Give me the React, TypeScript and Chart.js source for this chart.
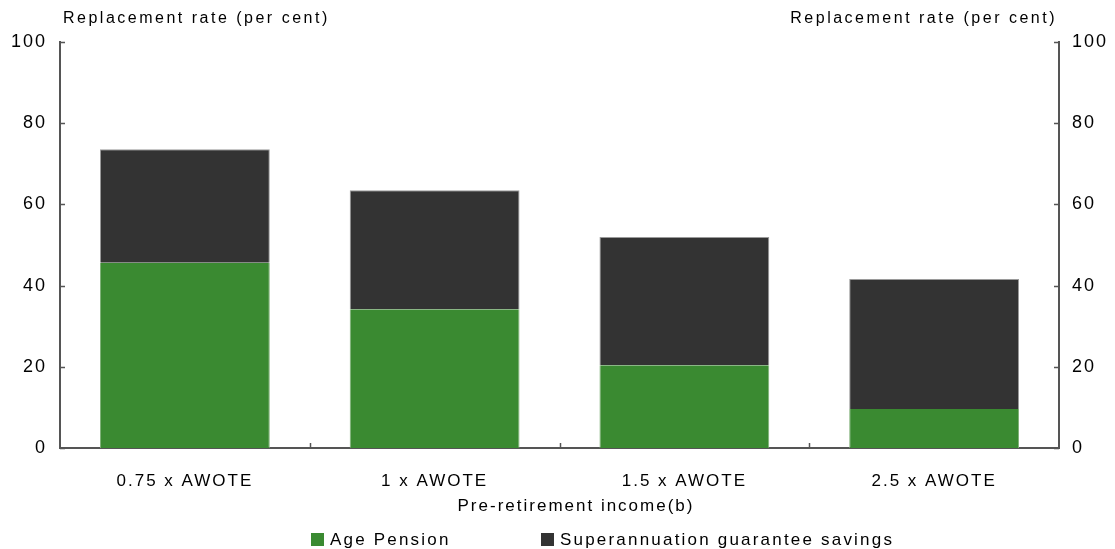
import React, { useEffect, useRef } from "react";
import { Chart, registerables } from "chart.js";

Chart.register(...registerables);

const categories = ["0.75 x AWOTE", "1 x AWOTE", "1.5 x AWOTE", "2.5 x AWOTE"];
const agePension = [45.6, 34.2, 20.4, 9.6];
const superSavings = [28.0, 29.3, 31.6, 32.0];
const yTicks = [0, 20, 40, 60, 80, 100];
const leftTitle = "Replacement rate (per cent)";
const rightTitle = "Replacement rate (per cent)";
const xTitle = "Pre-retirement income(b)";
const seriesNames = ["Age Pension", "Superannuation guarantee savings"];
const colors = ["#3a8a31", "#333333"];

const FONT = "'Liberation Sans', Arial, sans-serif";
const AXIS = "#555555";

const overlay = {
  id: "overlay",
  beforeDraw(chart: any) {
    (chart.ctx as any).letterSpacing = "2px";
  },
  afterDraw(chart: any) {
    const ctx = chart.ctx;
    const area = chart.chartArea;
    const x = chart.scales.x;
    const y = chart.scales.y;
    ctx.save();
    ctx.strokeStyle = AXIS;
    ctx.lineWidth = 1.5;
    // inward ticks on y axes
    y.ticks.forEach((_t: any, i: number) => {
      const py = Math.round(y.getPixelForTick(i)) + 0.5;
      ctx.beginPath();
      ctx.moveTo(area.left, py);
      ctx.lineTo(area.left + 5, py);
      ctx.moveTo(area.right, py);
      ctx.lineTo(area.right - 5, py);
      ctx.stroke();
    });
    // inward ticks on x axis at category boundaries
    for (let i = 0; i < categories.length - 1; i++) {
      const px = Math.round((x.getPixelForTick(i) + x.getPixelForTick(i + 1)) / 2) + 0.5;
      ctx.beginPath();
      ctx.moveTo(px, area.bottom);
      ctx.lineTo(px, area.bottom - 5);
      ctx.stroke();
    }
    ctx.fillStyle = "#000";
    ctx.textBaseline = "middle";
    (ctx as any).letterSpacing = "2.5px";
    ctx.font = `16px ${FONT}`;
    ctx.textAlign = "left";
    ctx.fillText(leftTitle, area.left + 3, 19);
    ctx.textAlign = "right";
    ctx.fillText(rightTitle, area.right - 2, 19);
    (ctx as any).letterSpacing = "2px";
    ctx.textAlign = "center";
    ctx.font = `17px ${FONT}`;
    ctx.fillText(xTitle, 576, 506);
    // legend
    (ctx as any).letterSpacing = "2.2px";
    const legendX = [311, 541];
    ctx.textAlign = "left";
    seriesNames.forEach((name, i) => {
      ctx.fillStyle = colors[i];
      ctx.fillRect(legendX[i], 533, 13, 13);
      ctx.fillStyle = "#000";
      ctx.fillText(name, legendX[i] + 19, 540);
    });
    ctx.restore();
  },
};

export default function App() {
  const ref = useRef<HTMLCanvasElement>(null);
  useEffect(() => {
    const chart = new Chart(ref.current!, {
      type: "bar",
      data: {
        labels: categories,
        datasets: [
          {
            label: seriesNames[0],
            data: agePension,
            backgroundColor: colors[0],
            borderColor: "#7fb077",
            borderWidth: { top: 0, left: 1, right: 1, bottom: 0 },
            yAxisID: "y",
          },
          {
            label: seriesNames[1],
            data: superSavings,
            backgroundColor: colors[1],
            borderColor: "#9a9a9a",
            borderWidth: { top: 1, left: 1, right: 1, bottom: 0 },
            yAxisID: "y",
          },
        ],
      },
      options: {
        responsive: false,
        animation: false,
        devicePixelRatio: 1,
        layout: { padding: { top: 42, left: 0, right: 0, bottom: 0 } },
        plugins: { legend: { display: false }, tooltip: { enabled: false }, title: { display: false } },
        datasets: { bar: { barPercentage: 0.68, categoryPercentage: 1 } },
        scales: {
          x: {
            stacked: true,
            grid: { display: false, drawTicks: false },
            border: { display: true, color: AXIS, width: 2 },
            ticks: { color: "#000", font: { family: FONT, size: 17 }, padding: 23, maxRotation: 0 },
            afterFit(scale: any) {
              scale.height = 101;
            },
          },
          y: {
            stacked: true,
            position: "left",
            min: 0,
            max: 100,
            grid: { display: false, drawTicks: false },
            border: { display: true, color: AXIS, width: 2 },
            ticks: {
              stepSize: 20,
              color: "#000",
              font: { family: FONT, size: 18 },
              padding: 13,
              callback: (v: any) => (yTicks.includes(v) ? String(v) : null),
            },
            afterFit(scale: any) {
              scale.width = 60;
            },
          },
          y2: {
            position: "right",
            min: 0,
            max: 100,
            grid: { display: false, drawTicks: false },
            border: { display: true, color: AXIS, width: 2 },
            ticks: {
              stepSize: 20,
              color: "#000",
              font: { family: FONT, size: 18 },
              padding: 13,
              callback: (v: any) => (yTicks.includes(v) ? String(v) : null),
            },
            afterFit(scale: any) {
              scale.width = 56;
            },
          },
        },
      } as any,
      plugins: [overlay],
    });
    return () => chart.destroy();
  }, []);
  return (
    <div style={{ position: "fixed", left: 0, top: 0, width: 1115, height: 549, background: "#fff" }}>
      <canvas ref={ref} width={1115} height={549} style={{ display: "block" }} />
    </div>
  );
}
